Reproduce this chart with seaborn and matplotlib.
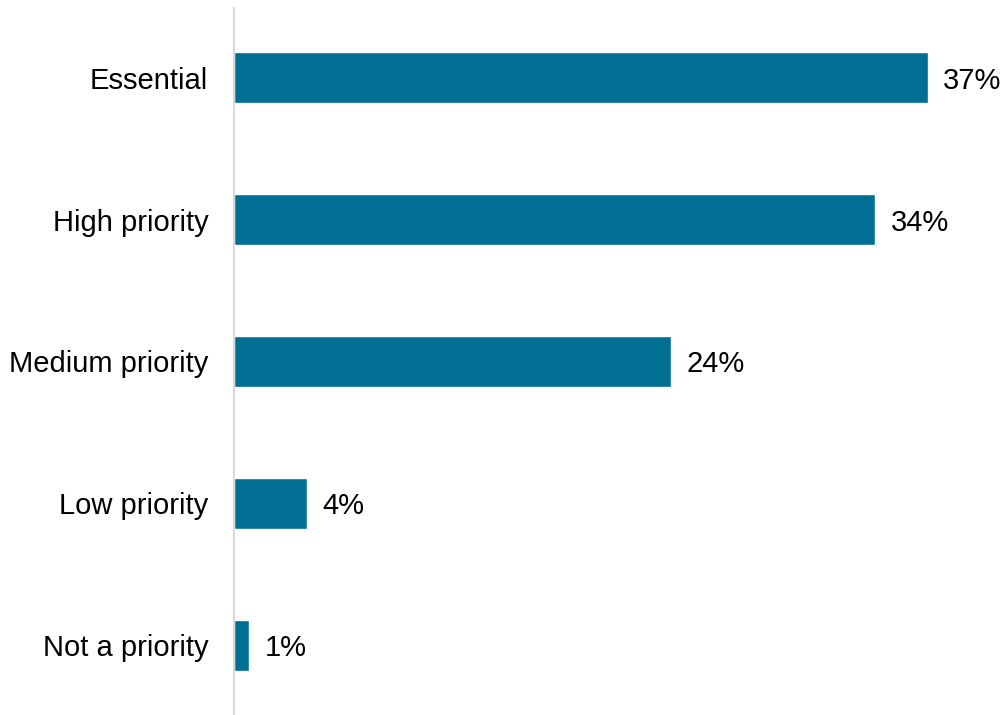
import matplotlib
matplotlib.use('Agg')
import matplotlib.pyplot as plt
import seaborn as sns
import pandas as pd

# Data
categories = ['Essential', 'High priority', 'Medium priority', 'Low priority', 'Not a priority']
shares = [37.0, 34.2, 23.3, 3.9, 0.8]
value_labels = ['37%', '34%', '24%', '4%', '1%']

df = pd.DataFrame({'category': categories, 'share': shares})

sns.set_style('white')
plt.rcParams['font.family'] = ['Liberation Sans', 'DejaVu Sans']

fig = plt.figure(figsize=(10.02, 7.15), dpi=100)
ax = fig.add_axes([234 / 1002, 0, 750 / 1002, 1 - 8 / 715])

sns.barplot(data=df, x='share', y='category', color='#016F94', width=0.36,
            saturation=1, ax=ax)

for bar, lab in zip(ax.patches, value_labels):
    ax.annotate(lab, (bar.get_width(), bar.get_y() + bar.get_height() / 2),
                xytext=(11, 0), textcoords='offset points',
                va='center_baseline', ha='left', fontsize=21, color='#000000')

ax.set_xlim(0, 40)
ax.set_ylim(4.49, -0.49)
ax.set_xlabel('')
ax.set_ylabel('')
ax.set_xticks([])
ax.tick_params(axis='y', length=0, pad=18.5, labelsize=21, labelcolor='#000000')

for side in ['top', 'right', 'bottom']:
    ax.spines[side].set_visible(False)
ax.spines['left'].set_color('#d9d9d9')
ax.spines['left'].set_linewidth(1.5)

fig.savefig('out.png', dpi=100)
